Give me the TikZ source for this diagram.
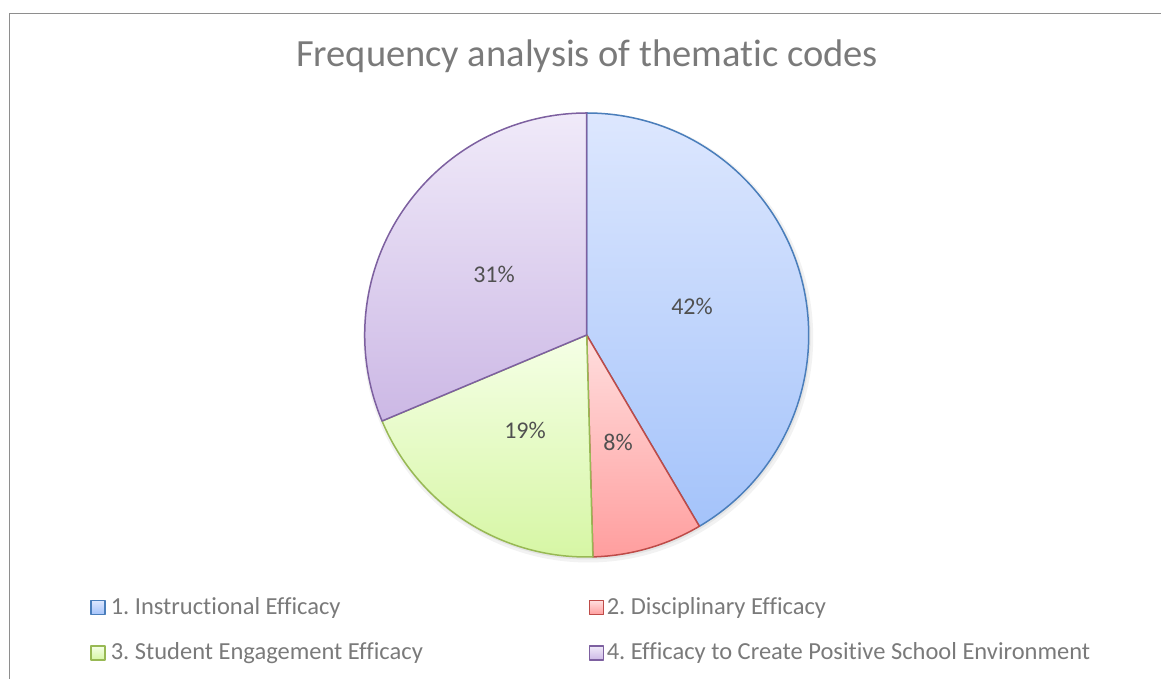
\documentclass[tikz,border=0pt]{standalone}
\usepackage{fontspec}
\setmainfont[Ligatures=NoCommon]{Carlito}
\usepackage{tikz}
\usetikzlibrary{positioning,calc}
% slice fills (light at the top, darker at the bottom) and their rims
\definecolor{instrtop}{HTML}{DDE7FE}
\definecolor{instrbot}{HTML}{A4C3FA}
\definecolor{instrrim}{HTML}{4A7EBB}
\definecolor{disctop}{HTML}{FFDEDE}
\definecolor{discbot}{HTML}{FF9E9E}
\definecolor{discrim}{HTML}{BE4B48}
\definecolor{engtop}{HTML}{F5FFE6}
\definecolor{engbot}{HTML}{D6F6A4}
\definecolor{engrim}{HTML}{98B954}
\definecolor{envtop}{HTML}{F0EAF9}
\definecolor{envbot}{HTML}{CCB8E5}
\definecolor{envrim}{HTML}{7D60A0}
\definecolor{txtgrey}{HTML}{7A7A7A}
\definecolor{lblgrey}{HTML}{505050}
\definecolor{framegrey}{HTML}{8E8E8E}
\tikzset{
  instr/.style = {top color=instrtop, bottom color=instrbot, draw=instrrim},
  disc/.style  = {top color=disctop, bottom color=discbot, draw=discrim},
  eng/.style   = {top color=engtop, bottom color=engbot, draw=engrim},
  env/.style   = {top color=envtop, bottom color=envbot, draw=envrim},
  pct/.style   = {font=\fontsize{24}{28}\selectfont, text=lblgrey, inner sep=0pt},
  key/.style   = {rectangle, minimum size=14pt, inner sep=0pt, line width=1.3pt},
  keytxt/.style= {font=\fontsize{24.5}{28}\selectfont, text=txtgrey, inner sep=0pt,
                  anchor=base west},
}
\frenchspacing

\begin{document}
\begin{tikzpicture}[x=1pt, y=1pt, line width=1.5pt, line join=round]
  \useasboundingbox (0,0) rectangle (1161,679);
  % chart frame, cut off at the right and the bottom
  \draw[framegrey] (9.5,0) -- (9.5,665.5) -- (1161,665.5);

  \node[font=\fontsize{38.5}{44}\selectfont, text=txtgrey, anchor=base, inner sep=0pt]
    (title) at (587,612) {Frequency analysis of thematic codes};

  \coordinate (ctr) at (586.7,344);
  % soft shadow under the pie
  \fill[black, opacity=0.05] ($(ctr)+(1.5,-2.5)$) circle[radius=225];
  \fill[black, opacity=0.06] ($(ctr)+(1,-1.5)$) circle[radius=223];

  % slices, clockwise from twelve o'clock
  \filldraw[instr] (ctr) -- ++(90:222) arc[start angle=90, end angle=-59.5, radius=222] -- cycle;
  \filldraw[disc] (ctr) -- ++(-59.5:222) arc[start angle=-59.5, end angle=-88.4, radius=222] -- cycle;
  \filldraw[eng] (ctr) -- ++(-88.4:222) arc[start angle=-88.4, end angle=-157.2, radius=222] -- cycle;
  \filldraw[env] (ctr) -- ++(-157.2:222) arc[start angle=-157.2, end angle=-270, radius=222] -- cycle;

  \node[pct] (p42) at (692,373) {42\%};
  \node[pct] (p8)  at (618,237) {8\%};
  \node[pct] (p19) at (525,249) {19\%};
  \node[pct] (p31) at (494,405) {31\%};

  % legend
  \node[key, instr] (k1) at (98,71.5) {};
  \node[keytxt] (t1) at (110,64) {1. Instructional Efficacy};
  \node[key, disc] (k2) at (596.7,71.5) {};
  \node[keytxt] (t2) at (606,64) {2. Disciplinary Efficacy};
  \node[key, eng] (k3) at (98,26) {};
  \node[keytxt] (t3) at (110,19) {3. Student Engagement Efficacy};
  \node[key, env] (k4) at (596.7,26) {};
  \node[keytxt] (t4) at (606,19) {4. Efficacy to Create Positive School Environment};
\end{tikzpicture}
\end{document}
